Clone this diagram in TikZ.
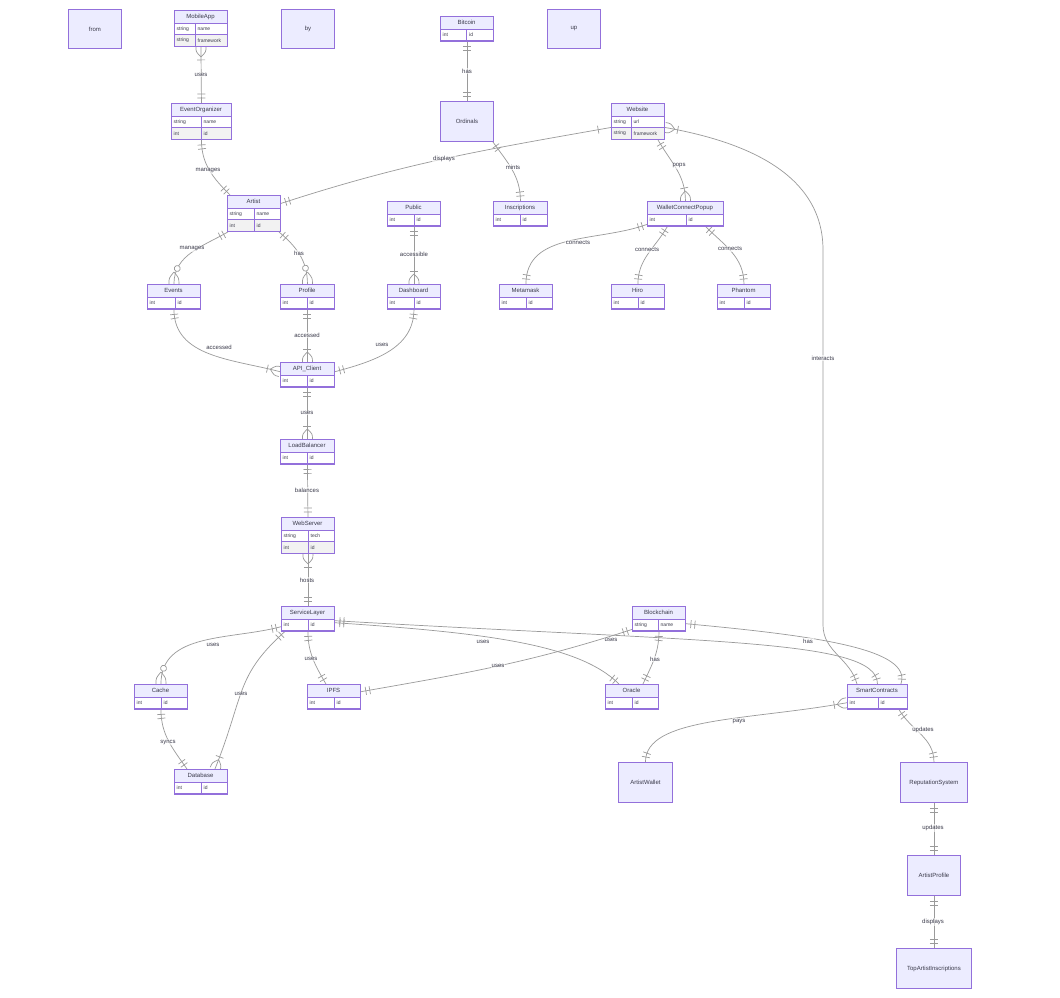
\documentclass[tikz,border=0pt]{standalone}
\usepackage{fontspec}
\setmainfont{Liberation Sans}
\usetikzlibrary{decorations.markings,calc}
\pgfdeclarelayer{bgfill}
\pgfdeclarelayer{edges}
\pgfsetlayers{bgfill,edges,main}
\definecolor{entfill}{HTML}{ECECFF}
\definecolor{entline}{HTML}{9370DB}
\definecolor{rowgrey}{HTML}{F2F2F2}
\definecolor{relline}{HTML}{9A9A9A}
\definecolor{txt}{HTML}{3A3A4A}
\tikzset{
 entbox/.style={draw=entline, fill=entfill, line width=0.9pt, inner sep=0pt, rectangle},
 enttitle/.style={font=\fontsize{6}{7}\selectfont, text=txt, inner sep=0pt},
 attrtxt/.style={font=\fontsize{5}{6}\selectfont, text=txt, inner sep=0pt, anchor=west},
 rowcell/.style={draw=entline, line width=0.9pt},
 rel/.style={draw=relline, line width=0.7pt},
 mk/.style={draw=relline, line width=0.7pt},
 rlabel/.style={font=\fontsize{6}{7}\selectfont, text=txt, fill=white, fill opacity=0.6, text opacity=1, inner sep=0.8pt},
 barsA/.style={postaction={decorate,decoration={markings,
   mark=at position 5pt with {\draw[mk] (0,-4pt)--(0,4pt);},
   mark=at position 9pt with {\draw[mk] (0,-4pt)--(0,4pt);}}}},
 barsB/.style={postaction={decorate,decoration={markings,
   mark=at position -9pt with {\draw[mk] (0,-4pt)--(0,4pt);},
   mark=at position -5pt with {\draw[mk] (0,-4pt)--(0,4pt);}}}},
 manyA/.style={postaction={decorate,decoration={markings,
   mark=at position 0pt with {\draw[mk] (10pt,0) .. controls (5pt,5pt) .. (0,5pt); \draw[mk] (10pt,0) .. controls (5pt,-5pt) .. (0,-5pt);},
   mark=at position 13pt with {\draw[mk] (0,-4pt)--(0,4pt);}}}},
 manyB/.style={postaction={decorate,decoration={markings,
   mark=at position -13pt with {\draw[mk] (0,-4pt)--(0,4pt);},
   mark=at position -0.01pt with {\draw[mk] (-10pt,0) .. controls (-5pt,5pt) .. (0,5pt); \draw[mk] (-10pt,0) .. controls (-5pt,-5pt) .. (0,-5pt);}}}},
 zmanyB/.style={postaction={decorate,decoration={markings,
   mark=at position -16pt with {\draw[mk,fill=white] (0,0) circle (3pt);},
   mark=at position -0.01pt with {\draw[mk] (-12pt,0) .. controls (-6pt,5pt) .. (0,5pt); \draw[mk] (-12pt,0) .. controls (-6pt,-5pt) .. (0,-5pt);}}}},
}
% #1 name #2 title #3 left #4 top #5 width #6 type col width #7 rows count #8 rows
\newcommand\erent[8]{%
 \node[entbox, anchor=north west, minimum width=#5pt, minimum height={13pt+#7*11.5pt}] (#1) at (#3,-#4) {};
 \node[enttitle] (#1-title) at ($(#1.north west)+(#5/2,-6.5)$) {#2};
 \foreach \ty/\nm [count=\k] in {#8}{%
   \ifodd\k\relax\def\rf{white}\else\def\rf{rowgrey}\fi
   \draw[rowcell, fill=\rf] ($(#1.north west)+(0,{-13-(\k-1)*11.5})$) rectangle +(#6,-11.5);
   \draw[rowcell, fill=\rf] ($(#1.north west)+(#6,{-13-(\k-1)*11.5})$) rectangle +({#5-#6},-11.5);
   \node[attrtxt] (#1-a\k) at ($(#1.north west)+(2.5,{-13-(\k-0.5)*11.5})$) {\ty};
   \node[attrtxt] (#1-b\k) at ($(#1.north west)+(#6+2.5,{-13-(\k-0.5)*11.5})$) {\nm};
 }%
}
\newcommand\plainent[6]{%
 \node[entbox, anchor=north west, minimum width=#5pt, minimum height=#6pt, font=\fontsize{6}{7}\selectfont, text=txt] (#1) at (#3,-#4) {#2};%
}
\begin{document}
\begin{tikzpicture}[x=1pt,y=1pt]
\useasboundingbox (0,0) rectangle (1060,-997);
\begin{pgfonlayer}{bgfill}
\fill[white] (0,0) rectangle (1060,-997);
\end{pgfonlayer}

\plainent{from}{from}{68}{9}{53}{39}
\plainent{by}{by}{281}{9}{53}{39}
\plainent{up}{up}{547}{9}{53}{39}
\plainent{Ordinals}{Ordinals}{440}{101}{53}{40}
\plainent{ArtistWallet}{ArtistWallet}{618}{762}{54}{40}
\plainent{ReputationSystem}{ReputationSystem}{900}{762}{67}{40}
\plainent{ArtistProfile}{ArtistProfile}{907}{855}{53}{40}
\plainent{TopArtistInscriptions}{TopArtistInscriptions}{896}{948}{75}{40}

\erent{MobileApp}{MobileApp}{174}{10}{53}{21}{2}{string/name,string/framework}
\erent{Bitcoin}{Bitcoin}{440}{16}{53}{26.5}{1}{int/id}
\erent{EventOrganizer}{EventOrganizer}{171}{103}{60}{30}{2}{string/name,int/id}
\erent{Website}{Website}{611}{103}{53}{20}{2}{string/url,string/framework}
\erent{Artist}{Artist}{227}{195}{53}{27}{2}{string/name,int/id}
\erent{Public}{Public}{387}{201}{53}{27}{1}{int/id}
\erent{Inscriptions}{Inscriptions}{493}{201}{54}{27}{1}{int/id}
\erent{WalletConnectPopup}{WalletConnectPopup}{647}{201}{76}{39}{1}{int/id}
\erent{Events}{Events}{147}{284}{53}{28}{1}{int/id}
\erent{Profile}{Profile}{280}{284}{54}{27}{1}{int/id}
\erent{Dashboard}{Dashboard}{387}{284}{53}{27}{1}{int/id}
\erent{Metamask}{Metamask}{499}{284}{53}{27}{1}{int/id}
\erent{Hiro}{Hiro}{611}{284}{53}{27}{1}{int/id}
\erent{Phantom}{Phantom}{717}{284}{53}{27}{1}{int/id}
\erent{APIClient}{API\_Client}{280}{362}{54}{27}{1}{int/id}
\erent{LoadBalancer}{LoadBalancer}{280}{439}{54}{27}{1}{int/id}
\erent{WebServer}{WebServer}{281}{517}{53}{27}{2}{string/tech,int/id}
\erent{ServiceLayer}{ServiceLayer}{281}{606}{53}{27}{1}{int/id}
\erent{Blockchain}{Blockchain}{632}{606}{53}{26}{1}{string/name}
\erent{Cache}{Cache}{134}{684}{53}{27}{1}{int/id}
\erent{IPFS}{IPFS}{307}{684}{53}{27}{1}{int/id}
\erent{Oracle}{Oracle}{605}{684}{53}{27}{1}{int/id}
\erent{SmartContracts}{SmartContracts}{847}{684}{60}{31}{1}{int/id}
\erent{Database}{Database}{174}{769}{53}{27}{1}{int/id}

\coordinate (iA) at (823,-250);
\coordinate (iB) at (823,-625);

\begin{pgfonlayer}{edges}
\draw[rel, manyA, barsB] (MobileApp.south) -- (EventOrganizer.north);
\draw[rel, barsA, barsB] (EventOrganizer.south) to[out=-90,in=135] ([xshift=3pt]Artist.north west);
\draw[rel, barsA, manyB] ([yshift=10pt]Artist.east) to[out=18,in=190] ([yshift=-6pt]Website.west);
\draw[rel, barsA, barsB] (Bitcoin.south) -- (Ordinals.north);
\draw[rel, barsA, barsB] ([xshift=-1pt]Ordinals.south east) to[out=-55,in=90] (Inscriptions.north);
\draw[rel, barsA, manyB] ([xshift=20pt]Website.south) to[out=-60,in=90] (WalletConnectPopup.north);
\draw[rel, manyA, barsB] ([yshift=-6pt]Website.east) to[out=-10,in=90] (iA) -- (iB) to[out=-90,in=105] ([xshift=10pt]SmartContracts.north west);
\draw[rel, barsA, zmanyB] ([xshift=1pt]Artist.south west) to[out=210,in=90] (Events.north);
\draw[rel, barsA, zmanyB] ([xshift=-2pt]Artist.south east) to[out=-40,in=90] (Profile.north);
\draw[rel, barsA, manyB] (Public.south) -- (Dashboard.north);
\draw[rel, barsA, barsB] ([yshift=2pt]WalletConnectPopup.south west) to[out=200,in=90] (Metamask.north);
\draw[rel, barsA, barsB] ([xshift=-18pt]WalletConnectPopup.south) to[out=-120,in=90] (Hiro.north);
\draw[rel, barsA, barsB] ([xshift=20pt]WalletConnectPopup.south) to[out=-45,in=90] (Phantom.north);
\draw[rel, barsA, manyB] (Events.south) to[out=-90,in=165] ([yshift=3pt]APIClient.west);
\draw[rel, barsA, manyB] (Profile.south) -- (APIClient.north);
\draw[rel, barsA, barsB] (Dashboard.south) to[out=-90,in=15] ([yshift=3pt]APIClient.east);
\draw[rel, barsA, manyB] (APIClient.south) -- (LoadBalancer.north);
\draw[rel, barsA, barsB] (LoadBalancer.south) -- (WebServer.north);
\draw[rel, manyA, barsB] (WebServer.south) -- (ServiceLayer.north);
\draw[rel, barsA, zmanyB] ([yshift=-8pt]ServiceLayer.west) to[out=195,in=90] (Cache.north);
\draw[rel, barsA, manyB] ([xshift=4pt]ServiceLayer.south west) .. controls +(-50,-45) and +(30,75) .. ([xshift=14pt]Database.north);
\draw[rel, barsA, barsB] (ServiceLayer.south) to[out=-90,in=120] ([xshift=-8pt]IPFS.north);
\draw[rel, barsA, barsB] (Cache.south) to[out=-90,in=125] ([xshift=13pt]Database.north west);
\draw[rel, barsA, barsB] ([yshift=-4pt]ServiceLayer.east) .. controls +(150,-10) and +(-40,40) .. ([xshift=-13pt]Oracle.north);
\draw[rel, barsA, barsB] ([yshift=-2pt]ServiceLayer.east) .. controls +(380,-22) and +(0,45) .. (SmartContracts.north);
\draw[rel, barsA, barsB] ([yshift=2pt]Blockchain.south west) to[out=198,in=10] ([yshift=5pt]IPFS.east);
\draw[rel, barsA, barsB] (Blockchain.south) to[out=-90,in=65] ([xshift=11pt]Oracle.north);
\draw[rel, barsA, barsB] ([yshift=-5pt]Blockchain.east) .. controls +(130,-12) and +(12,35) .. ([xshift=-7pt]SmartContracts.north east);
\draw[rel, manyA, barsB] ([yshift=-6pt]SmartContracts.west) .. controls +(-100,-18) and +(0,45) .. (ArtistWallet.north);
\draw[rel, barsA, barsB] ([xshift=-9pt]SmartContracts.south east) to[out=-60,in=90] (ReputationSystem.north);
\draw[rel, barsA, barsB] (ReputationSystem.south) -- (ArtistProfile.north);
\draw[rel, barsA, barsB] (ArtistProfile.south) -- (TopArtistInscriptions.north);
\end{pgfonlayer}

\node[rlabel] (L1) at (201,-75) {uses};
\node[rlabel] (L2) at (208,-171) {manages};
\node[rlabel] (L3) at (444,-159) {displays};
\node[rlabel] (L4) at (467,-71) {has};
\node[rlabel] (L5) at (513,-167) {mints};
\node[rlabel] (L6) at (679,-166) {pops};
\node[rlabel] (L7) at (823,-358) {interacts};
\node[rlabel] (L8) at (192,-249) {manages};
\node[rlabel] (L9) at (299,-253) {has};
\node[rlabel] (L10) at (414,-254) {accessible};
\node[rlabel] (L11) at (578,-243) {connects};
\node[rlabel] (L12) at (647,-250) {connects};
\node[rlabel] (L13) at (730,-249) {connects};
\node[rlabel] (L14) at (219,-347) {accessed};
\node[rlabel] (L15) at (307,-335) {accessed};
\node[rlabel] (L16) at (382,-345) {uses};
\node[rlabel] (L17) at (307,-413) {uses};
\node[rlabel] (L18) at (307,-490) {balances};
\node[rlabel] (L19) at (307,-580) {hosts};
\node[rlabel] (L20) at (213,-645) {uses};
\node[rlabel] (L21) at (241,-694) {uses};
\node[rlabel] (L22) at (311,-659) {uses};
\node[rlabel] (L23) at (168,-742) {syncs};
\node[rlabel] (L24) at (483,-642) {uses};
\node[rlabel] (L25) at (611,-640) {uses};
\node[rlabel] (L26) at (498,-666) {uses};
\node[rlabel] (L27) at (655,-659) {has};
\node[rlabel] (L28) at (808,-641) {has};
\node[rlabel] (L29) at (739,-721) {pays};
\node[rlabel] (L30) at (923,-730) {updates};
\node[rlabel] (L31) at (933,-828) {updates};
\node[rlabel] (L32) at (933,-922) {displays};
\end{tikzpicture}
\end{document}
